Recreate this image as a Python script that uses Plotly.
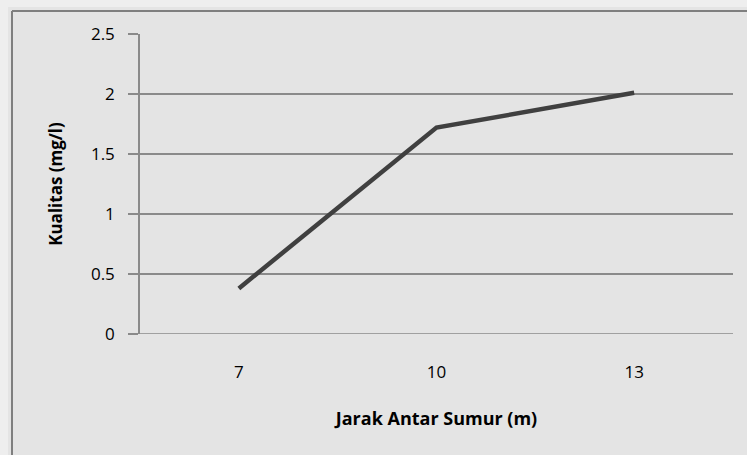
import plotly.graph_objects as go

categories = ["7", "10", "13"]
values = [0.38, 1.72, 2.01]
y_ticks = [0, 0.5, 1, 1.5, 2, 2.5]
y_tick_labels = ["0", "0.5", "1", "1.5", "2", "2.5"]

W, H = 747, 455
L, R, T, B = 140, 14, 34, 121
pw, ph = W - L - R, H - T - B

def px(x):
    return (x - L) / pw

def py(y):
    return (H - B - y) / ph

grid = "#8a8a8a"
fig = go.Figure()
fig.add_trace(go.Scatter(x=categories, y=values, mode="lines",
                         line=dict(color="#404040", width=4.5),
                         showlegend=False, hoverinfo="skip"))

shapes = [
    dict(type="rect", xref="paper", yref="paper", x0=px(8), x1=px(760), y0=py(7), y1=py(470),
         fillcolor="#e4e4e4", line=dict(width=0), layer="below"),
    dict(type="line", xref="paper", yref="paper", x0=px(12), x1=px(12), y0=py(11), y1=py(460),
         line=dict(color="#7f7f7f", width=2)),
    dict(type="line", xref="paper", yref="paper", x0=px(12), x1=px(760), y0=py(11), y1=py(11),
         line=dict(color="#7f7f7f", width=2)),
]

fig.update_layout(
    width=W, height=H,
    margin=dict(l=L, r=R, t=T, b=B, autoexpand=False),
    paper_bgcolor="#eeeeee",
    plot_bgcolor="rgba(0,0,0,0)",
    shapes=shapes,
    font=dict(family="Open Sans", size=17, color="#000000"),
    xaxis=dict(type="category", range=[-0.5, 2.5], showgrid=False, zeroline=False,
               showline=False, ticks="", ticklabelstandoff=26,
               tickfont=dict(size=17),
               title=dict(text="<b>Jarak Antar Sumur (m)</b>", standoff=30,
                          font=dict(size=18))),
    yaxis=dict(range=[0, 2.5], tickvals=y_ticks, ticktext=y_tick_labels,
               showgrid=True, gridcolor=grid, gridwidth=1.5, zeroline=False,
               showline=True, linecolor=grid, linewidth=1.5,
               ticks="outside", ticklen=10, tickcolor=grid, tickwidth=1.5,
               ticklabelstandoff=10, tickfont=dict(size=17),
               title=dict(text="<b>Kualitas (mg/l)</b>", standoff=24,
                          font=dict(size=17))),
)
fig.add_shape(type="line", xref="paper", yref="y", x0=0, x1=1, y0=0, y1=0,
              line=dict(color=grid, width=1.5))

fig.write_html("out.html", config={"displayModeBar": False},
               post_script="document.body.style.margin='0';")
